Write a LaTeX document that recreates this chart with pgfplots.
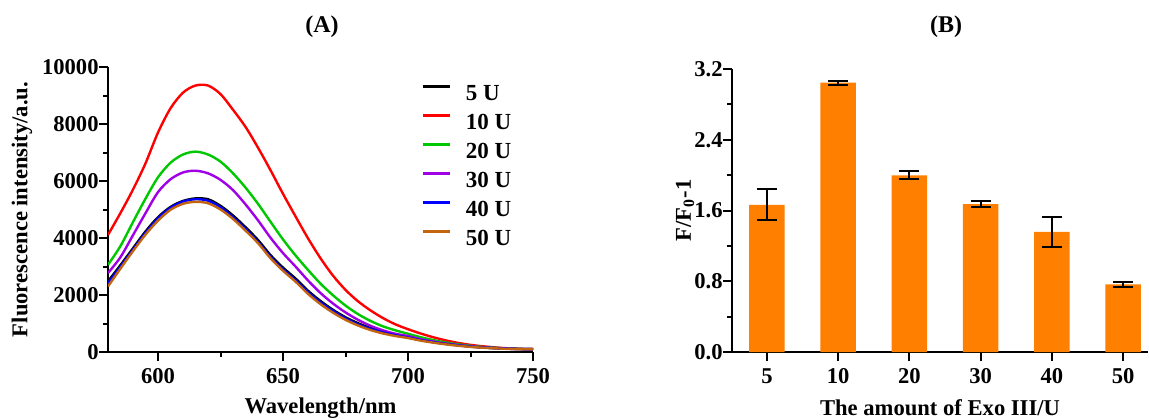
\documentclass[border=0pt]{standalone}
\usepackage{fontspec}
\setmainfont{Liberation Serif}
\usepackage{pgfplots}
\pgfplotsset{compat=1.18}
\definecolor{cgreen}{RGB}{0,200,0}
\definecolor{cpurple}{RGB}{160,0,230}
\definecolor{cbrown}{RGB}{195,100,15}
\definecolor{corange}{RGB}{255,128,0}
\begin{document}
\begin{tikzpicture}
\useasboundingbox (0pt,0pt) rectangle (574.5pt,209.5pt);
\pgfplotsset{
  mystyle/.style={
    scale only axis,
    axis x line*=bottom, axis y line*=left,
    axis line style={-, line width=1pt},
    tick align=outside,
    major tick length=4.5pt, minor tick length=2.5pt,
    every tick/.style={black, line width=1pt},
    /pgf/number format/assume math mode=true,
    font=\fontsize{11}{13}\selectfont\bfseries,
    ticklabel style={font=\fontsize{11.3}{13}\selectfont\bfseries, inner sep=0pt},
    xticklabel style={yshift=-3.5pt},
    label style={font=\fontsize{11.3}{13}\selectfont\bfseries},
    scaled ticks=false,
  }
}
\begin{axis}[mystyle,
  at={(54pt,33.5pt)}, anchor=south west,
  width=212.5pt, height=142.5pt,
  xmin=580, xmax=750, ymin=0, ymax=10000,
  xtick={600,650,700,750}, minor x tick num=1,
  ytick={0,2000,4000,6000,8000,10000}, minor y tick num=1,
  yticklabel style={/pgf/number format/1000 sep={}},
  xlabel={Wavelength/nm},
  ylabel={Fluorescence intensity/a.u.},
  xlabel style={at={([yshift=-28pt]axis description cs:0.5,0)}, anchor=center},
  ylabel style={at={([xshift=-43pt]axis description cs:0,0.5)}, anchor=center},
  legend style={draw=none, fill=none, at={(0.738,0.939)}, anchor=north west,
    inner sep=0pt, row sep=6.75pt,
    nodes={inner sep=0pt, text height=7pt, text depth=0pt, anchor=west},
    /tikz/every odd column/.append style={column sep=7.2pt},
    font=\fontsize{11.5}{13}\selectfont\bfseries},
  legend image code/.code={\draw[#1, line width=1.4pt] (0pt,3.6pt) -- (13.3pt,3.6pt);},
  every axis plot/.append style={line width=1.2pt, smooth, no marks},
]
\addplot[black] coordinates {(580,2480) (585,3050) (590,3640) (595,4230) (600,4730) (605,5090) (610,5300) (615,5390) (620,5360) (625,5130) (630,4790) (635,4380) (640,3930) (645,3400) (650,2960) (655,2580) (660,2150) (665,1790) (670,1480) (675,1220) (680,1010) (685,840) (690,710) (695,610) (700,530) (705,430) (710,355) (715,290) (720,240) (725,195) (730,160) (735,135) (740,115) (745,105) (750,100)};
\addlegendentry{5 U}
\addplot[red] coordinates {(580,4110) (585,4880) (590,5700) (595,6620) (600,7700) (605,8550) (610,9100) (615,9350) (620,9350) (625,9050) (630,8500) (635,7900) (640,7170) (645,6380) (650,5550) (655,4760) (660,3990) (665,3290) (670,2680) (675,2180) (680,1780) (685,1460) (690,1190) (695,970) (700,800) (705,650) (710,520) (715,410) (720,320) (725,250) (730,200) (735,160) (740,130) (745,110) (750,100)};
\addlegendentry{10 U}
\addplot[cgreen] coordinates {(580,3060) (585,3720) (590,4560) (595,5380) (600,6130) (605,6640) (610,6930) (615,7030) (620,6930) (625,6680) (630,6270) (635,5770) (640,5200) (645,4570) (650,3950) (655,3390) (660,2880) (665,2400) (670,1990) (675,1630) (680,1330) (685,1090) (690,900) (695,760) (700,640) (705,520) (710,420) (715,335) (720,270) (725,215) (730,175) (735,145) (740,122) (745,108) (750,100)};
\addlegendentry{20 U}
\addplot[cpurple] coordinates {(580,2770) (585,3330) (590,4100) (595,4870) (600,5610) (605,6060) (610,6300) (615,6360) (620,6270) (625,6040) (630,5680) (635,5180) (640,4620) (645,4010) (650,3470) (655,3000) (660,2510) (665,2070) (670,1700) (675,1390) (680,1130) (685,920) (690,760) (695,640) (700,560) (705,450) (710,370) (715,300) (720,245) (725,200) (730,165) (735,140) (740,120) (745,105) (750,100)};
\addlegendentry{30 U}
\addplot[blue] coordinates {(580,2420) (585,3000) (590,3590) (595,4180) (600,4690) (605,5060) (610,5280) (615,5360) (620,5310) (625,5080) (630,4730) (635,4320) (640,3860) (645,3340) (650,2900) (655,2520) (660,2100) (665,1740) (670,1440) (675,1180) (680,970) (685,810) (690,690) (695,590) (700,510) (705,420) (710,345) (715,285) (720,235) (725,190) (730,158) (735,133) (740,115) (745,104) (750,98)};
\addlegendentry{40 U}
\addplot[cbrown] coordinates {(580,2300) (585,2930) (590,3540) (595,4120) (600,4610) (605,4990) (610,5200) (615,5270) (620,5220) (625,5000) (630,4670) (635,4260) (640,3820) (645,3290) (650,2850) (655,2470) (660,2040) (665,1680) (670,1380) (675,1130) (680,930) (685,770) (690,650) (695,560) (700,490) (705,400) (710,330) (715,270) (720,220) (725,180) (730,150) (735,128) (740,110) (745,100) (750,95)};
\addlegendentry{50 U}
\end{axis}
\begin{axis}[mystyle,
  at={(366pt,33.5pt)}, anchor=south west,
  width=208pt, height=141.5pt,
  xmin=-0.49, xmax=5.35, ymin=0, ymax=3.2,
  xtick={0,1,2,3,4,5}, xticklabels={5,10,20,30,40,50},
  ytick={0,0.8,1.6,2.4,3.2}, minor y tick num=1,
  yticklabel style={/pgf/number format/.cd, fixed, fixed zerofill, precision=1},
  xlabel={The amount of Exo III/U},
  ylabel={F/F\textsubscript{0}-1},
  xlabel style={at={([yshift=-28pt]axis description cs:0.5,0)}, anchor=center},
  ylabel style={at={([xshift=-23.5pt]axis description cs:0,0.5)}, anchor=center},
]
\addplot[ybar, bar width=0.5, fill=corange, draw=none,
  error bars/.cd, y dir=both, y explicit,
  error bar style={black, line width=1pt},
  error mark options={rotate=90, black, line width=1pt, mark size=5pt}]
  coordinates {(0,1.665) +- (0,0.178) (1,3.045) +- (0,0.022) (2,1.998) +- (0,0.045) (3,1.673) +- (0,0.037) (4,1.358) +- (0,0.17) (5,0.765) +- (0,0.026)};
\end{axis}
\node[font=\fontsize{12}{14}\selectfont\bfseries] at (161pt,196pt) {(A)};
\node[font=\fontsize{12}{14}\selectfont\bfseries] at (473pt,196pt) {(B)};
\end{tikzpicture}
\end{document}
